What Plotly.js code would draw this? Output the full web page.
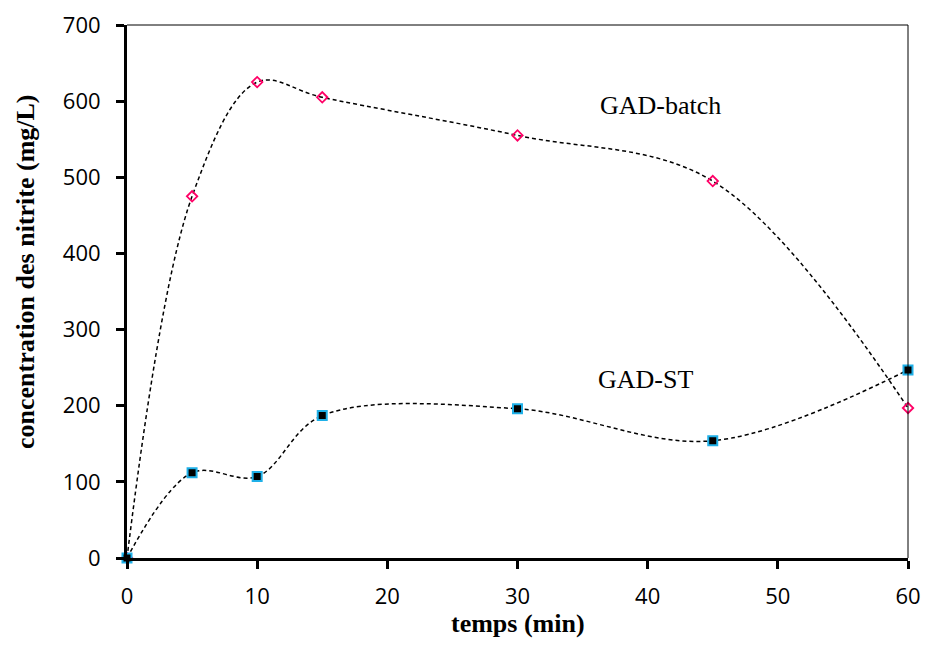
<!DOCTYPE html>
<html>
<head>
<meta charset="utf-8">
<script src="https://cdn.plot.ly/plotly-3.0.1.min.js"></script>
<style>body{margin:0;padding:0;background:#fff}#chart{width:925px;height:645px}</style>
</head>
<body>
<div id="chart"></div>
<script>
const timeMin = [0, 5, 10, 15, 30, 45, 60];
const gadBatch = [0, 475, 625, 605, 555, 495, 197];
const gadST = [0, 112, 107, 187, 196, 154, 247];
const xTicks = [0, 10, 20, 30, 40, 50, 60];
const yTicks = [0, 100, 200, 300, 400, 500, 600, 700];
const xTitle = 'temps (min)';
const yTitle = 'concentration des nitrite (mg/L)';

const SANS = 'Open Sans, sans-serif';
const SERIF = 'Liberation Serif, Times New Roman, serif';

const traces = [
  {
    x: timeMin, y: gadBatch, type: 'scatter', mode: 'lines+markers', name: 'GAD-batch',
    line: {shape: 'spline', smoothing: 1, color: '#000', width: 1.5, dash: '4px,3px'},
    marker: {symbol: 'diamond-open', size: 8, color: '#ff0066', line: {width: 1.8, color: '#ff0066'}},
    cliponaxis: false
  },
  {
    x: timeMin, y: gadST, type: 'scatter', mode: 'lines+markers', name: 'GAD-ST',
    line: {shape: 'spline', smoothing: 1, color: '#000', width: 1.5, dash: '4px,3px'},
    marker: {symbol: 'square', size: 9, color: '#000', line: {width: 2, color: '#1fb0e8'}},
    cliponaxis: false
  }
];

const layout = {
  width: 925, height: 645,
  margin: {l: 127, r: 17, t: 25, b: 87},
  paper_bgcolor: '#fff', plot_bgcolor: '#fff',
  showlegend: false,
  font: {family: SANS, size: 22, color: '#000'},
  xaxis: {
    range: [0, 60], tickvals: xTicks, ticktext: xTicks.map(String), automargin: false,
    showgrid: false, zeroline: false, showline: true, linewidth: 3, linecolor: '#000',
    ticks: 'outside', ticklen: 8, tickwidth: 3, tickcolor: '#000', ticklabelstandoff: 9,
    tickfont: {family: SANS, size: 22, color: '#000'}
  },
  yaxis: {
    range: [0, 700], tickvals: yTicks, ticktext: yTicks.map(String), automargin: false,
    showgrid: false, zeroline: false, showline: true, linewidth: 3, linecolor: '#000',
    ticks: 'outside', ticklen: 8, tickwidth: 3, tickcolor: '#000', ticklabelstandoff: 11,
    tickfont: {family: SANS, size: 22, color: '#000'}
  },
  shapes: [
    {type: 'line', xref: 'paper', yref: 'paper', x0: 0, x1: 1, y0: 1, y1: 1, line: {color: '#000', width: 1}},
    {type: 'line', xref: 'paper', yref: 'paper', x0: 1, x1: 1, y0: 0, y1: 1, line: {color: '#000', width: 1}}
  ],
  annotations: [
    {x: 40.95, y: 594, xref: 'x', yref: 'y', text: 'GAD-batch', showarrow: false,
     font: {family: SERIF, size: 26, color: '#000'}},
    {x: 39.83, y: 235, xref: 'x', yref: 'y', text: 'GAD-ST', showarrow: false,
     font: {family: SERIF, size: 26, color: '#000'}},
    {x: 0.5, y: -0.122, xref: 'paper', yref: 'paper', xanchor: 'center', yanchor: 'middle',
     text: '<b>' + xTitle + '</b>', showarrow: false,
     font: {family: SERIF, size: 26, color: '#000'}},
    {x: -0.1293, y: 0.5366, xref: 'paper', yref: 'paper', xanchor: 'center', yanchor: 'middle',
     textangle: -90, text: '<b>' + yTitle + '</b>', showarrow: false,
     font: {family: SERIF, size: 26, color: '#000'}}
  ]
};

Plotly.newPlot('chart', traces, layout, {displayModeBar: false, staticPlot: true});
</script>
</body>
</html>
